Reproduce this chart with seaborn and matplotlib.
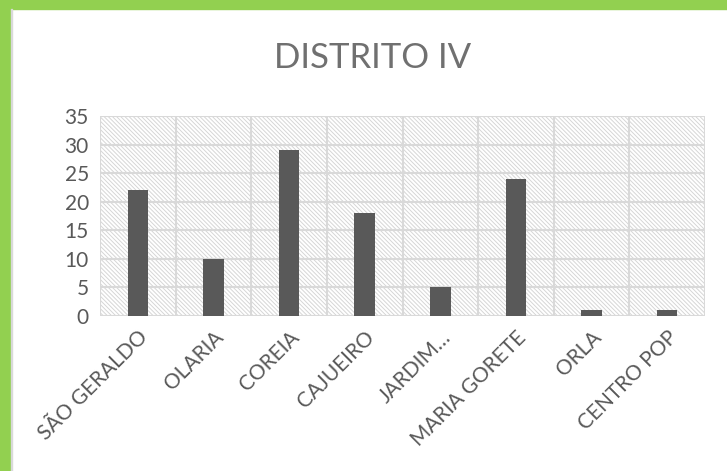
import matplotlib
matplotlib.use("Agg")
import matplotlib.pyplot as plt
import seaborn as sns
import pandas as pd
from matplotlib.patches import Rectangle

categories = ["SÃO GERALDO", "OLARIA", "COREIA", "CAJUEIRO", "JARDIM…", "MARIA GORETE", "ORLA", "CENTRO POP"]
values = [22, 10, 29, 18, 5, 24, 1, 1]
yticks = [0, 5, 10, 15, 20, 25, 30, 35]
title = "DISTRITO IV"

sns.set_theme(style="white")
plt.rcParams['font.family'] = ['Lato', 'DejaVu Sans']
plt.rcParams['hatch.linewidth'] = 0.7

W, H = 727, 471
fig = plt.figure(figsize=(W/100, H/100), dpi=100)
fig.patch.set_facecolor("white")

# green frame (left and top)
green = "#92D050"
fig.add_artist(Rectangle((0, 0), 11/W, 1, transform=fig.transFigure, color=green, zorder=0))
fig.add_artist(Rectangle((0, 1-9/H), 1, 9/H, transform=fig.transFigure, color=green, zorder=0))
fig.add_artist(Rectangle((11/W, 0), 1.2/W, 1-9/H, transform=fig.transFigure, color="#d9d9d9", zorder=0))

ax = fig.add_axes([100/W, 1-316/H, 605/W, 200/H])
df = pd.DataFrame({"cat": categories, "val": values})

# hatched background
ax.add_patch(Rectangle((0, 0), 1, 1, transform=ax.transAxes, facecolor="white",
                       edgecolor="#d6d6d6", hatch="\\" * 8, linewidth=0, zorder=0))

sns.barplot(data=df, x="cat", y="val", color="#595959", width=0.27, ax=ax,
            saturation=1, zorder=3)
for p in ax.patches[1:]:
    p.set_edgecolor("none")

ax.set_xlim(-0.5, len(categories) - 0.5)
ax.set_ylim(0, 35)
ax.set_yticks(yticks)
ax.set_xticks(range(len(categories)))
ax.set_xticklabels(categories, rotation=45, ha="right", rotation_mode="anchor",
                   fontsize=15, color="#595959")
ax.tick_params(axis="y", labelsize=15, labelcolor="#595959", length=0, pad=8)
ax.tick_params(axis="x", length=0, pad=8)
ax.set_xlabel("")
ax.set_ylabel("")

# grid lines
for y in yticks:
    ax.axhline(y, color="#d9d9d9", linewidth=1.5, zorder=1)
for i in range(len(categories) + 1):
    ax.axvline(i - 0.5, color="#d9d9d9", linewidth=1.5, zorder=1)
for s in ax.spines.values():
    s.set_visible(False)

fig.text(373/W, 1-58/H, title, ha="center", va="center", fontsize=25, color="#707070")

fig.savefig("out.png", dpi=100)
